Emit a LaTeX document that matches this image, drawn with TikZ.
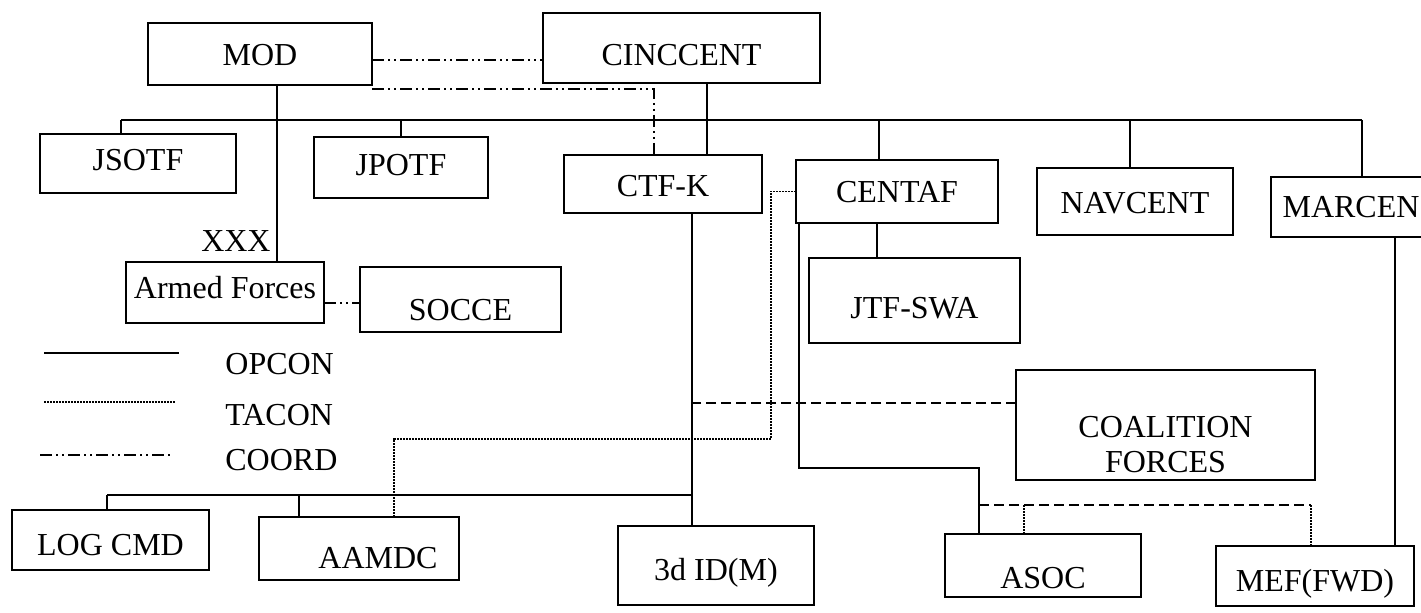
\documentclass[tikz,border=0pt]{standalone}
\usepackage{fontspec}
\setmainfont{Liberation Serif}
\usetikzlibrary{calc}
\begin{document}
\begin{tikzpicture}[x=0.5pt,y=-0.5pt,
  box/.style={draw, line width=1.4pt, inner sep=0pt, outer sep=0pt,
    font=\fontsize{16}{17.5}\selectfont, text depth=0pt},
  wh/.style 2 args={minimum width=#1*0.5pt, minimum height=#2*0.5pt},
  th/.style={text height=#1pt},
  con/.style={line width=1.1pt},
  tacon/.style={line width=0.9pt, dash pattern=on 0.9pt off 0.6pt},
  dashl/.style={line width=1.1pt, dash pattern=on 5pt off 2.5pt},
  coordl/.style={line width=1.1pt, dash pattern=on 6pt off 2pt on 1pt off 2pt on 1pt off 2pt},
  lbl/.style={inner sep=0pt, font=\fontsize{16}{17.5}\selectfont}]
\useasboundingbox (0,0) rectangle (1421,613);

% top level
\node[box, wh={224}{62}, th=11.6] (mod) at (260,54) {MOD};
\node[box, wh={277}{70}, th=17.6] (cinc) at (681.5,48) {CINCCENT};

% second row
\node[box, wh={196}{59}, th=7.1] (jsotf) at (138,163.5) {JSOTF};
\node[box, wh={174}{61}, th=8.1] (jpotf) at (401,167.5) {JPOTF};
\node[box, wh={198}{58}, th=12.6] (ctfk) at (663,184) {CTF-K};
\node[box, wh={202}{63}, th=10.6] (centaf) at (897,191.5) {CENTAF};
\node[box, wh={196}{67}, th=12.1] (navcent) at (1135,201.5) {NAVCENT};
\node[box, wh={160}{60}, th=10.6] (marcen) at (1351,207) {MARCEN};

% middle
\node[box, wh={198}{61}, th=6.1] (armed) at (225,292.5) {Armed Forces};
\node[box, wh={201}{65}, th=21.1] (socce) at (460.5,299.5) {SOCCE};
\node[box, wh={211}{85}, th=18.1] (jtf) at (914.5,300.5) {JTF-SWA};
\node[box, wh={299}{110}, align=center, text height=47.6pt, text depth=0pt] (coal) at (1165.5,425) {COALITION\\FORCES};
\node[lbl, anchor=east] (xxx) at (271,241) {XXX};

% bottom row
\node[box, wh={197}{60}, th=15.1] (logcmd) at (110.5,540) {LOG CMD};
\node[box, wh={200}{63}, th=20.1] (aamdc) at (359,548.5) {\hspace*{19pt}AAMDC};
\node[box, wh={196}{79}, th=15.1] (id3) at (716,565.5) {3d ID(M)};
\node[box, wh={196}{63}, th=23.1] (asoc) at (1043,565.5) {ASOC};
\node[box, wh={198}{60}, th=15.1] (mef) at (1315,576) {MEF(FWD)};

% legend
\coordinate (lg1a) at (44,353);  \coordinate (lg1b) at (179,353);
\coordinate (lg2a) at (44,402);  \coordinate (lg2b) at (175,402);
\coordinate (lg3a) at (40,455);  \coordinate (lg3b) at (173,455);
\draw[con] (lg1a) -- (lg1b);
\draw[tacon] (lg2a) -- (lg2b);
\draw[coordl] (lg3a) -- (lg3b);
\node[lbl, anchor=west] (lopcon) at (225,364) {OPCON};
\node[lbl, anchor=west] (ltacon) at (225,415) {TACON};
\node[lbl, anchor=west] (lcoord) at (225,460) {COORD};

% COORD links from MOD
\draw[coordl] ([yshift=-3pt]mod.east) -- ([yshift=-3pt]mod.east -| cinc.west);
\draw[coordl] ([yshift=-2pt]mod.south east) -| ([xshift=-4.5pt]ctfk.north);
\draw[coordl] ([yshift=-5.25pt]armed.east) -- ([yshift=-5.25pt]armed.east -| socce.west);

% MOD to Armed Forces
\draw[con] ([xshift=8.5pt]mod.south) -- ([xshift=8.5pt]mod.south |- armed.north);

% CINCCENT to CTF-K
\draw[con] ([xshift=12.75pt]cinc.south) -- ([xshift=12.75pt]cinc.south |- ctfk.north);

% top bus
\coordinate (busL) at (121,120);
\coordinate (busR) at (1362,120);
\draw[con] (busL) -- (busR);
\draw[con] (busL) -- (busL |- jsotf.north);
\draw[con] (jpotf.north) -- (jpotf.north |- busL);
\draw[con] ([xshift=-9pt]centaf.north) -- ([xshift=-9pt]centaf.north |- busL);
\draw[con] ([xshift=-2.5pt]navcent.north) -- ([xshift=-2.5pt]navcent.north |- busL);
\draw[con] (busR) -- (busR |- marcen.north);

% CENTAF to JTF-SWA
\draw[con] ([xshift=-10pt]centaf.south) -- ([xshift=-10pt]centaf.south |- jtf.north);

% CTF-K to 3d ID(M)
\coordinate (ctfx) at ([xshift=14.5pt]ctfk.south);
\draw[con] (ctfx) -- (ctfx |- id3.north);

% bottom bus
\coordinate (bbL) at (107,495);
\draw[con] (bbL) -- (bbL -| ctfx);
\draw[con] (bbL) -- (bbL |- logcmd.north);
\draw[con] ([xshift=-30pt]aamdc.north) -- ([xshift=-30pt]aamdc.north |- bbL);

% dashed CTF-K line to Coalition
\draw[dashl] ([yshift=11pt]coal.west) -- ([yshift=11pt]coal.west -| ctfx);

% TACON from CENTAF to AAMDC
\coordinate (tk1) at (771,439);
\draw[tacon] (centaf.west) -| (tk1) -| ([xshift=17.5pt]aamdc.north);

% CENTAF to ASOC
\coordinate (asx) at (979,468);
\draw[con] ([xshift=1.5pt]centaf.south west) |- (asx) -- ([xshift=-32pt]asoc.north);

% dashed line to MEF with dotted drops
\coordinate (dm1) at (979,505);
\coordinate (dm2) at (1311,505);
\draw[dashl] (dm1) -- (dm2);
\draw[tacon] ([xshift=-9.5pt]asoc.north) -- ([xshift=-9.5pt]asoc.north |- dm1);
\draw[tacon] ([xshift=-2pt]mef.north) -- ([xshift=-2pt]mef.north |- dm2);

% MARCEN to MEF(FWD)
\draw[con] ([xshift=22pt]marcen.south) -- ([xshift=22pt]marcen.south |- mef.north);
\end{tikzpicture}
\end{document}
